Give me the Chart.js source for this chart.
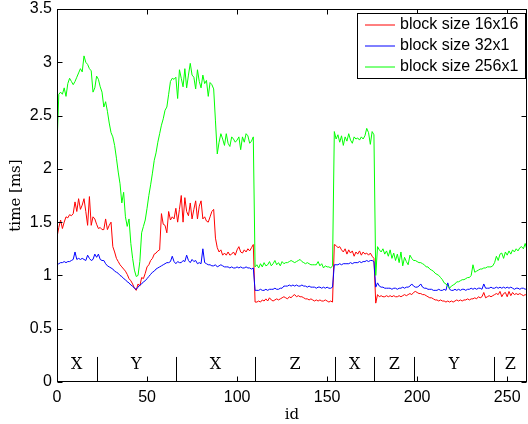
<!DOCTYPE html>
<html><head><meta charset="utf-8">
<script src="https://cdn.jsdelivr.net/npm/chart.js@4"></script>
<style>html,body{margin:0;padding:0;background:#fff}#wrap{width:528px;height:424px;position:relative}</style>
</head><body><div id="wrap"><canvas id="c" width="528" height="424"></canvas></div>
<script>
// ids 0..261
const ids = [];
for (let i = 0; i < 262; i++) ids.push(i);

const seriesLabels = ['block size 16x16', 'block size 32x1', 'block size 256x1'];

const time16x16 = [
1.36,1.45,1.52,1.44,1.50,1.55,1.54,1.57,1.56,1.58,
1.69,1.60,1.72,1.62,1.66,1.72,1.60,1.47,1.74,1.47,
1.55,1.53,1.48,1.44,1.45,1.43,1.43,1.53,1.43,1.47,
1.50,1.27,1.22,1.16,1.13,1.10,1.08,1.06,1.04,1.01,
0.97,0.95,0.92,0.88,0.86,0.92,0.90,0.98,0.97,1.02,
1.08,1.10,1.14,1.16,1.20,1.21,1.23,1.24,1.58,1.48,
1.47,1.40,1.60,1.52,1.55,1.53,1.63,1.50,1.62,1.75,
1.50,1.73,1.60,1.56,1.68,1.53,1.62,1.70,1.53,1.65,
1.70,1.53,1.55,1.51,1.50,1.55,1.60,1.62,1.35,1.26,
1.22,1.24,1.19,1.21,1.19,1.22,1.19,1.20,1.22,1.19,
1.24,1.27,1.22,1.21,1.24,1.22,1.25,1.23,1.26,1.29,
0.75,0.75,0.76,0.75,0.77,0.76,0.78,0.76,0.79,0.77,
0.76,0.77,0.78,0.77,0.78,0.79,0.80,0.79,0.78,0.80,
0.79,0.81,0.82,0.80,0.81,0.80,0.80,0.79,0.78,0.78,
0.77,0.78,0.77,0.76,0.77,0.76,0.77,0.76,0.76,0.77,
0.76,0.75,0.76,0.75,1.29,1.28,1.26,1.27,1.24,1.22,
1.25,1.20,1.24,1.21,1.23,1.18,1.22,1.20,1.23,1.19,
1.22,1.20,1.21,1.19,1.21,1.18,1.16,0.74,0.82,0.80,
0.81,0.80,0.80,0.81,0.80,0.81,0.80,0.81,0.80,0.80,
0.81,0.80,0.81,0.82,0.81,0.82,0.83,0.82,0.84,0.85,
0.84,0.83,0.83,0.82,0.82,0.81,0.80,0.79,0.79,0.78,
0.77,0.77,0.76,0.77,0.76,0.76,0.75,0.76,0.75,0.76,
0.75,0.76,0.77,0.76,0.77,0.76,0.77,0.77,0.78,0.77,
0.78,0.78,0.79,0.78,0.80,0.79,0.80,0.84,0.79,0.80,
0.81,0.80,0.81,0.82,0.83,0.82,0.85,0.80,0.83,0.84,
0.80,0.85,0.81,0.84,0.82,0.83,0.82,0.83,0.82,0.81,
0.82,0.81];

const time32x1 = [
1.10,1.11,1.12,1.12,1.13,1.12,1.13,1.13,1.14,1.15,
1.22,1.15,1.16,1.15,1.16,1.15,1.14,1.19,1.16,1.14,
1.15,1.20,1.17,1.20,1.15,1.14,1.14,1.11,1.09,1.08,
1.07,1.06,1.04,1.03,1.02,1.00,0.99,0.97,0.96,0.94,
0.93,0.91,0.90,0.88,0.87,0.89,0.91,0.92,0.94,0.95,
0.97,0.99,1.01,1.03,1.04,1.06,1.07,1.08,1.09,1.10,
1.11,1.12,1.12,1.13,1.18,1.13,1.11,1.13,1.12,1.12,
1.14,1.13,1.19,1.14,1.12,1.15,1.13,1.14,1.11,1.12,
1.11,1.25,1.12,1.11,1.10,1.10,1.09,1.09,1.10,1.08,
1.09,1.10,1.09,1.08,1.08,1.08,1.07,1.08,1.07,1.07,
1.08,1.07,1.08,1.07,1.07,1.08,1.07,1.07,1.06,1.07,
0.86,0.86,0.86,0.87,0.86,0.86,0.87,0.86,0.87,0.87,
0.87,0.88,0.87,0.87,0.88,0.88,0.90,0.90,0.90,0.91,
0.90,0.91,0.90,0.91,0.90,0.90,0.91,0.90,0.90,0.89,
0.90,0.89,0.89,0.89,0.88,0.89,0.89,0.88,0.89,0.88,
0.89,0.88,0.88,0.89,1.10,1.10,1.10,1.11,1.10,1.11,
1.11,1.11,1.11,1.12,1.11,1.12,1.12,1.12,1.13,1.12,
1.13,1.13,1.14,1.13,1.14,1.14,1.13,0.89,0.93,0.90,
0.89,0.89,0.88,0.88,0.88,0.88,0.87,0.88,0.88,0.87,
0.88,0.88,0.89,0.88,0.89,0.89,0.90,0.92,0.90,0.89,
0.89,0.90,0.92,0.89,0.88,0.88,0.87,0.87,0.87,0.86,
0.86,0.86,0.87,0.86,0.86,0.87,0.86,0.93,0.87,0.86,
0.86,0.87,0.86,0.87,0.86,0.87,0.87,0.86,0.87,0.87,
0.88,0.87,0.88,0.87,0.88,0.88,0.87,0.92,0.88,0.88,
0.88,0.89,0.88,0.88,0.89,0.88,0.89,0.88,0.89,0.88,
0.89,0.88,0.89,0.88,0.87,0.88,0.88,0.87,0.88,0.88,
0.87,0.88];

const time256x1 = [
2.22,2.70,2.72,2.70,2.76,2.68,2.80,2.85,2.82,2.79,
2.82,2.86,2.90,2.94,2.91,3.06,3.00,2.98,2.94,2.92,
2.72,2.76,2.87,2.84,2.77,2.72,2.58,2.63,2.54,2.43,
2.34,2.30,2.22,2.10,1.97,1.86,1.68,1.78,1.55,1.46,
1.53,1.30,1.16,1.05,0.99,1.00,1.13,1.40,1.46,1.52,
1.63,1.75,1.85,1.96,2.08,2.15,2.25,2.33,2.41,2.47,
2.55,2.58,2.70,2.82,2.85,2.84,2.86,2.66,2.93,2.85,
2.77,2.94,2.76,2.88,2.99,2.88,2.86,2.75,2.93,2.82,
2.76,2.88,2.80,2.83,2.68,2.81,2.79,2.75,2.45,2.14,
2.25,2.33,2.28,2.22,2.33,2.24,2.21,2.30,2.28,2.25,
2.27,2.30,2.18,2.30,2.25,2.33,2.31,2.24,2.26,2.30,
1.08,1.10,1.07,1.11,1.08,1.12,1.09,1.10,1.13,1.09,
1.11,1.14,1.10,1.12,1.09,1.13,1.11,1.12,1.12,1.13,
1.14,1.13,1.12,1.13,1.14,1.15,1.13,1.12,1.11,1.12,
1.11,1.10,1.10,1.10,1.10,1.13,1.09,1.11,1.07,1.09,
1.08,1.08,1.07,1.09,2.35,2.28,2.32,2.25,2.31,2.22,
2.30,2.26,2.33,2.27,2.24,2.30,2.28,2.29,2.27,2.30,
2.28,2.31,2.38,2.34,2.23,2.35,2.32,1.00,1.27,1.24,
1.22,1.25,1.20,1.23,1.18,1.24,1.16,1.21,1.14,1.20,
1.12,1.22,1.09,1.17,1.13,1.10,1.19,1.16,1.14,1.14,
1.13,1.12,1.12,1.11,1.10,1.08,1.08,1.06,1.05,1.04,
1.02,1.01,1.00,0.98,0.96,0.93,0.92,0.90,0.88,0.90,
0.91,0.92,0.94,0.94,0.95,0.96,0.96,0.97,0.98,0.98,
1.00,1.10,1.03,1.04,1.05,1.06,1.06,1.07,1.07,1.08,
1.08,1.08,1.09,1.12,1.18,1.14,1.20,1.21,1.16,1.22,
1.19,1.23,1.20,1.24,1.22,1.25,1.23,1.26,1.27,1.25,
1.30,1.24];

// access-pattern segments along the id axis
const segmentBounds = [22, 66, 110, 154.5, 176, 198.5, 242.5];
const segmentLabels = ['X', 'Y', 'X', 'Z', 'X', 'Z', 'Y', 'Z'];

const xTicks = [0, 50, 100, 150, 200, 250];
const yTicks = [0, 0.5, 1, 1.5, 2, 2.5, 3, 3.5];

const colors = ['#ff0000', '#0000ff', '#00ff00'];
const allSeries = [time16x16, time32x1, time256x1];

const SANS = '"Liberation Sans", Arial, Helvetica, sans-serif';
const SERIF = '"DejaVu Serif", "Liberation Serif", serif';

const datasets = allSeries.map((s, k) => ({
  label: seriesLabels[k],
  data: s.map((v, i) => ({x: ids[i], y: v})),
  borderColor: colors[k],
  backgroundColor: colors[k],
  borderWidth: 1,
  pointRadius: 0,
  tension: 0,
  fill: false,
  order: 3 - k
}));

const matlabFrame = {
  id: 'matlabFrame',
  afterDatasetsDraw(chart) {
    const ctx = chart.ctx;
    const a = chart.chartArea;
    const xs = chart.scales.x, ys = chart.scales.y;
    ctx.save();
    // segment separators and labels
    ctx.strokeStyle = '#000';
    ctx.lineWidth = 1;
    const y0 = ys.getPixelForValue(0);
    const yTop = ys.getPixelForValue(0.235);
    segmentBounds.forEach(b => {
      const px = Math.round(xs.getPixelForValue(b)) + 0.5;
      ctx.beginPath(); ctx.moveTo(px, y0); ctx.lineTo(px, yTop); ctx.stroke();
    });
    const edges = [0].concat(segmentBounds, [xs.max]);
    ctx.fillStyle = '#000';
    ctx.font = '16px ' + SERIF;
    ctx.textAlign = 'center';
    ctx.textBaseline = 'middle';
    segmentLabels.forEach((t, i) => {
      const cx = xs.getPixelForValue((edges[i] + edges[i + 1]) / 2);
      ctx.fillText(t, cx, ys.getPixelForValue(0.165));
    });
    // box
    const L = Math.round(a.left) + 0.5, R = Math.round(a.right) - 0.5;
    const T = Math.round(a.top) + 0.5, B = Math.round(a.bottom) - 0.5;
    ctx.lineWidth = 1;
    ctx.strokeRect(L, T, R - L, B - T);
    // inward ticks
    const tl = 5;
    xTicks.forEach(v => {
      const px = Math.round(xs.getPixelForValue(v)) + 0.5;
      ctx.beginPath();
      ctx.moveTo(px, B); ctx.lineTo(px, B - tl);
      ctx.moveTo(px, T); ctx.lineTo(px, T + tl);
      ctx.stroke();
    });
    yTicks.forEach(v => {
      const py = Math.round(ys.getPixelForValue(v)) + 0.5;
      ctx.beginPath();
      ctx.moveTo(L, py); ctx.lineTo(L + tl, py);
      ctx.moveTo(R, py); ctx.lineTo(R - tl, py);
      ctx.stroke();
    });
    // legend
    const lx = 357.5, ly = 13.5, lw = 168, lh = 65;
    ctx.fillStyle = '#fff';
    ctx.fillRect(lx, ly, lw, lh);
    ctx.strokeStyle = '#000';
    ctx.strokeRect(lx, ly, lw, lh);
    ctx.font = '16px ' + SANS;
    ctx.textAlign = 'left';
    ctx.textBaseline = 'middle';
    chart.data.datasets.forEach((ds, i) => {
      const ry = 25 + i * 21;
      ctx.strokeStyle = ds.borderColor;
      ctx.lineWidth = 1;
      ctx.beginPath(); ctx.moveTo(365, ry); ctx.lineTo(395, ry); ctx.stroke();
      ctx.fillStyle = '#000';
      ctx.fillText(ds.label, 400, ry);
    });
    ctx.restore();
  }
};

new Chart(document.getElementById('c'), {
  type: 'line',
  data: { datasets },
  options: {
    responsive: false,
    animation: false,
    events: [],
    layout: { padding: { top: 9, right: 1, left: 0, bottom: 0 } },
    plugins: { legend: { display: false }, tooltip: { enabled: false } },
    scales: {
      x: {
        type: 'linear', min: 0, max: 261,
        afterBuildTicks: s => { s.ticks = xTicks.map(v => ({value: v})); },
        afterFit: s => { s.height = 42; s.paddingLeft = 0; s.paddingRight = 0; },
        grid: { display: false, drawTicks: false },
        border: { display: false },
        ticks: { color: '#000', font: { family: SANS, size: 16 }, padding: 6, maxRotation: 0, autoSkip: false,
                 callback: v => String(v) },
        title: { display: true, text: 'id', color: '#000', font: { family: SERIF, size: 15 }, padding: { top: 0, bottom: 0 } }
      },
      y: {
        type: 'linear', min: 0, max: 3.5,
        afterBuildTicks: s => { s.ticks = yTicks.map(v => ({value: v})); },
        afterFit: s => { s.width = 57; s.paddingTop = 0; s.paddingBottom = 0; },
        grid: { display: false, drawTicks: false },
        border: { display: false },
        ticks: { color: '#000', font: { family: SANS, size: 16 }, padding: 5, autoSkip: false,
                 callback: v => String(v) },
        title: { display: true, text: 'time [ms]', color: '#000', font: { family: SERIF, size: 15 }, padding: { top: 7, bottom: 0 } }
      }
    }
  },
  plugins: [matlabFrame]
});
</script>
</body></html>
